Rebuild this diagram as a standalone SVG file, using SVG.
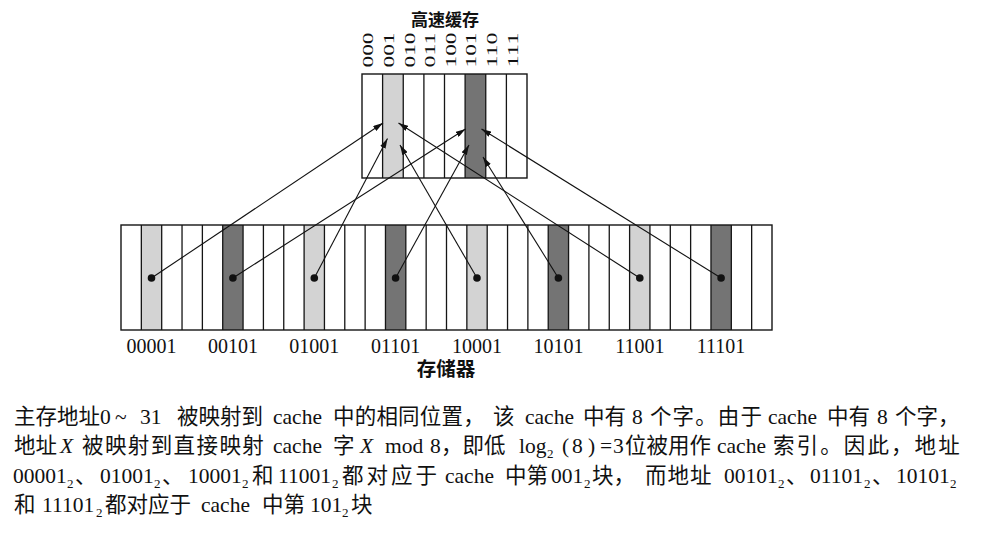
<svg xmlns="http://www.w3.org/2000/svg" width="982" height="535" viewBox="0 0 982 535">
<defs>
<style>
.box{fill:none;stroke:#151515;stroke-width:1.4}
.div{fill:none;stroke:#151515;stroke-width:1.3}
.lt{fill:#d3d3d3}
.dk{fill:#747474}
.con{fill:none;stroke:#111;stroke-width:1.1}
.dot{fill:#111}
.bits{font-family:"Liberation Serif",serif;font-size:14px;fill:#111}
.addr{font-family:"Liberation Serif",serif;font-size:20px;fill:#111;text-anchor:middle}
.title{font-family:"Noto Sans CJK SC",sans-serif;font-size:17px;font-weight:bold;fill:#111;text-anchor:middle}
.title2{font-family:"Noto Sans CJK SC",sans-serif;font-size:19.5px;font-weight:bold;fill:#111;text-anchor:middle}
.cap{font-family:"Liberation Serif","Noto Sans CJK SC",serif;font-size:21.5px;fill:#111}
.sub{font-size:13px}
.it{font-style:italic}
</style>
<marker id="ah" markerUnits="userSpaceOnUse" markerWidth="10" markerHeight="6" refX="10" refY="3" orient="auto">
<path d="M0,0 L10,3 L0,6 z" fill="#111"/>
</marker>
</defs>
<rect width="982" height="535" fill="#fff"/>

<text class="title" x="445" y="26">高速缓存</text>

<g id="cache">
<rect class="lt" x="382.6" y="74" width="20.65" height="104"/>
<rect class="dk" x="465.1" y="74" width="20.65" height="104"/>
<path class="div" d="M382.6,74V178M403.25,74V178M423.9,74V178M444.5,74V178M465.1,74V178M485.75,74V178M506.4,74V178"/>
<rect class="box" x="362" y="74" width="165" height="104"/>
</g>

<g id="cache-bits" class="bits">
<text transform="translate(373.3,67.5) rotate(-90)" textLength="35" lengthAdjust="spacingAndGlyphs">000</text>
<text transform="translate(393.9,67.5) rotate(-90)" textLength="35" lengthAdjust="spacingAndGlyphs">001</text>
<text transform="translate(414.5,67.5) rotate(-90)" textLength="35" lengthAdjust="spacingAndGlyphs">010</text>
<text transform="translate(435.1,67.5) rotate(-90)" textLength="35" lengthAdjust="spacingAndGlyphs">011</text>
<text transform="translate(455.7,67.5) rotate(-90)" textLength="35" lengthAdjust="spacingAndGlyphs">100</text>
<text transform="translate(476.3,67.5) rotate(-90)" textLength="35" lengthAdjust="spacingAndGlyphs">101</text>
<text transform="translate(496.9,67.5) rotate(-90)" textLength="35" lengthAdjust="spacingAndGlyphs">110</text>
<text transform="translate(517.5,67.5) rotate(-90)" textLength="35" lengthAdjust="spacingAndGlyphs">111</text>
</g>

<g id="memory">
<rect class="lt" x="141.34" y="225" width="20.35" height="105"/>
<rect class="dk" x="222.72" y="225" width="20.34" height="105"/>
<rect class="lt" x="304.1" y="225" width="20.34" height="105"/>
<rect class="dk" x="385.47" y="225" width="20.35" height="105"/>
<rect class="lt" x="466.85" y="225" width="20.34" height="105"/>
<rect class="dk" x="548.22" y="225" width="20.35" height="105"/>
<rect class="lt" x="629.6" y="225" width="20.34" height="105"/>
<rect class="dk" x="710.98" y="225" width="20.34" height="105"/>
<path class="div" d="M141.34,225V330M161.69,225V330M182.03,225V330M202.38,225V330M222.72,225V330M243.06,225V330M263.41,225V330M283.75,225V330M304.1,225V330M324.44,225V330M344.78,225V330M365.13,225V330M385.47,225V330M405.82,225V330M426.16,225V330M446.5,225V330M466.85,225V330M487.19,225V330M507.54,225V330M527.88,225V330M548.22,225V330M568.57,225V330M588.91,225V330M609.26,225V330M629.6,225V330M649.94,225V330M670.29,225V330M690.63,225V330M710.98,225V330M731.32,225V330M751.66,225V330"/>
<rect class="box" x="121" y="225" width="651" height="105"/>
<circle class="dot" cx="151.5" cy="278" r="3.8"/>
<circle class="dot" cx="232.9" cy="278" r="3.8"/>
<circle class="dot" cx="314.3" cy="278" r="3.8"/>
<circle class="dot" cx="395.6" cy="278" r="3.8"/>
<circle class="dot" cx="477" cy="278" r="3.8"/>
<circle class="dot" cx="558.4" cy="278" r="3.8"/>
<circle class="dot" cx="639.8" cy="278" r="3.8"/>
<circle class="dot" cx="721.1" cy="278" r="3.8"/>
</g>

<g id="connectors" class="con" marker-end="url(#ah)">
<path d="M151.5,278L383,123"/>
<path d="M314.3,278L387.5,138.5"/>
<path d="M477,278L400,145"/>
<path d="M639.8,278L398.5,123"/>
<path d="M232.9,278L465.5,129"/>
<path d="M395.6,278L469,145"/>
<path d="M558.4,278L483,157"/>
<path d="M721.1,278L481.5,129"/>
</g>

<g id="memory-labels" class="addr">
<text x="151.5" y="352.5">00001</text>
<text x="232.9" y="352.5">00101</text>
<text x="314.3" y="352.5">01001</text>
<text x="395.6" y="352.5">01101</text>
<text x="477" y="352.5">10001</text>
<text x="558.4" y="352.5">10101</text>
<text x="639.8" y="352.5">11001</text>
<text x="721.1" y="352.5">11101</text>
</g>
<text class="title2" x="446" y="376">存储器</text>

<g id="caption" class="cap">
<text y="423.5"><tspan x="14">主存地址</tspan><tspan x="100">0</tspan><tspan x="115">~</tspan><tspan x="140">31</tspan><tspan x="177">被映射到</tspan><tspan x="273">cache</tspan><tspan x="333" letter-spacing="0.2">中的相同位置，</tspan><tspan x="493">该</tspan><tspan x="525">cache</tspan><tspan x="583">中有</tspan><tspan x="632">8</tspan><tspan x="650" letter-spacing="1.1">个字。由于</tspan><tspan x="768">cache</tspan><tspan x="827">中有</tspan><tspan x="877">8</tspan><tspan x="895">个字，</tspan></text>
<text y="453"><tspan x="14">地址</tspan><tspan x="60" class="it">X</tspan><tspan x="82" letter-spacing="1.4">被映射到直接映射</tspan><tspan x="273">cache</tspan><tspan x="333">字</tspan><tspan x="360" class="it">X</tspan><tspan x="385">mod</tspan><tspan x="430">8</tspan><tspan x="441">，即低</tspan><tspan x="519">log</tspan><tspan x="547" dy="5" class="sub">2</tspan><tspan x="562" dy="-5">(</tspan><tspan x="572">8</tspan><tspan x="588">)</tspan><tspan x="600">=</tspan><tspan x="613">3</tspan><tspan x="625">位被用作</tspan><tspan x="717">cache</tspan><tspan x="773" letter-spacing="2.1">索引。因此，地址</tspan></text>
<text y="482.5"><tspan x="13">00001</tspan><tspan x="67" dy="5" class="sub">2</tspan><tspan x="75" dy="-5">、</tspan><tspan x="100">01001</tspan><tspan x="154" dy="5" class="sub">2</tspan><tspan x="162" dy="-5">、</tspan><tspan x="188">10001</tspan><tspan x="242" dy="5" class="sub">2</tspan><tspan x="252" dy="-5">和</tspan><tspan x="278">11001</tspan><tspan x="332" dy="5" class="sub">2</tspan><tspan x="342" dy="-5" letter-spacing="3">都对应于</tspan><tspan x="445">cache</tspan><tspan x="505">中第</tspan><tspan x="551">001</tspan><tspan x="584" dy="5" class="sub">2</tspan><tspan x="592" dy="-5">块，</tspan><tspan x="645" letter-spacing="1">而地址</tspan><tspan x="724">00101</tspan><tspan x="778" dy="5" class="sub">2</tspan><tspan x="786" dy="-5">、</tspan><tspan x="810">01101</tspan><tspan x="864" dy="5" class="sub">2</tspan><tspan x="872" dy="-5">、</tspan><tspan x="896">10101</tspan><tspan x="950" dy="5" class="sub">2</tspan></text>
<text y="512"><tspan x="14">和</tspan><tspan x="42">11101</tspan><tspan x="96" dy="5" class="sub">2</tspan><tspan x="105" dy="-5">都对应于</tspan><tspan x="201">cache</tspan><tspan x="262">中第</tspan><tspan x="310">101</tspan><tspan x="342" dy="5" class="sub">2</tspan><tspan x="351" dy="-5">块</tspan></text>
</g>
</svg>
